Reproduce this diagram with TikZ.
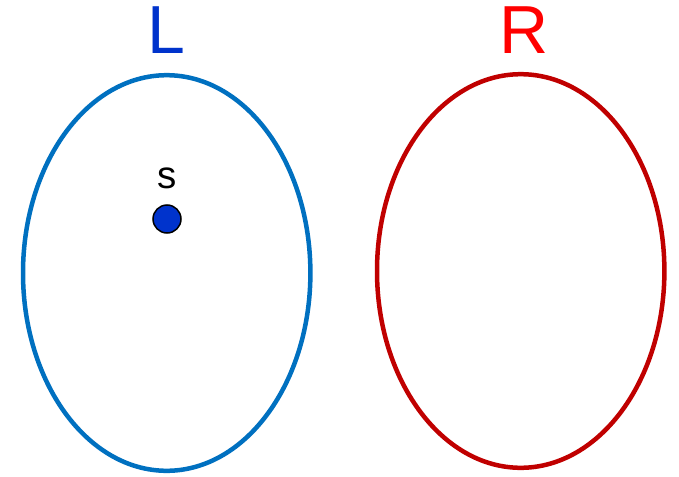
\documentclass[tikz,border=0pt]{standalone}
\usepackage{fontspec}
\setmainfont{Liberation Sans}
\definecolor{lblue}{HTML}{0070C0}
\definecolor{lred}{HTML}{C00000}
\definecolor{tblue}{HTML}{0033CC}
\definecolor{tred}{HTML}{FF0000}
\begin{document}
\begin{tikzpicture}[x=1pt,y=-1pt,
  setoval/.style={draw=#1,line width=4.5pt,ellipse},
  biglabel/.style={inner sep=0pt,anchor=base,font=\fontsize{68}{68}\selectfont}]
\useasboundingbox (0,0) rectangle (679,476);
\draw[lblue,line width=4.5pt] (166.7,273) ellipse [x radius=143.7,y radius=197.8];
\draw[lred,line width=4.5pt] (520.7,271) ellipse [x radius=143.7,y radius=196.8];
\node[biglabel,text=tblue] (L) at (166,54) {L};
\node[biglabel,text=tred] (R) at (524,54) {R};
\node[inner sep=0pt,anchor=base,font=\fontsize{38.5}{38.5}\selectfont] (s) at (167,188) {s};
\node[circle,fill=tblue,draw=black,line width=1.5pt,minimum size=28pt,inner sep=0pt] (dot) at (167,219) {};
\end{tikzpicture}
\end{document}
